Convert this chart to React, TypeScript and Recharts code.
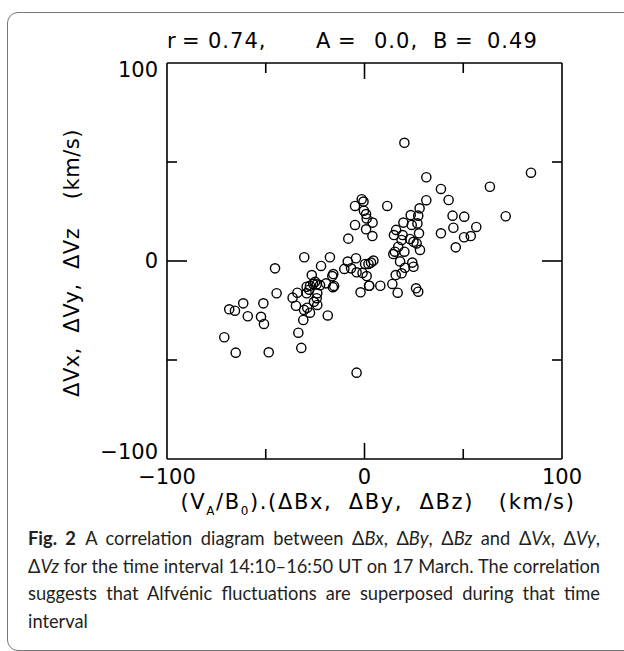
import React from 'react';
import { ScatterChart, Scatter, XAxis, YAxis } from 'recharts';

// (VA/B0).dB  vs  dV, km/s
const dB = [
  -1.4, -0.5, -4.8, -0.3, 0.8, 1.1, 4.1, -4.8, 0.8, 4.0, -8.2,
  -30.5, -17.5, -22.0, -45.3, -8.5, -4.3, -10.2, -6.8, -4.0, -1.0, 0.3, 2.0, 3.3, 4.5,
  1.1, 2.4, -2.0, 8.0, 2.3, -15.8, -16.3, -26.7, -19.5, -15.4, -16.0,
  -26.0, -24.2, -27.6, -29.3, -25.0, -22.5, -28.0, -34.0, -36.4, -44.5, -29.3, -23.9,
  -24.2, -25.6, -23.9, -34.7, -29.0, -30.6, -27.6, -18.6,
  -61.4, -51.2, -68.5, -65.6, -59.1, -52.4, -31.0, -50.9, -71.0, -65.2, -48.5,
  -33.5, -32.0, -4.0,
  20.2, 84.3, 31.3, 38.7, 63.5, 42.6, 31.3, 27.9, 11.5, 23.4, 27.2, 44.6, 50.5, 71.5,
  19.7, 26.8, 23.9, 45.0, 56.6, 16.0, 14.9, 19.3, 27.6, 38.7, 50.4, 53.8,
  18.8, 23.0, 24.8, 26.4, 17.1, 15.4, 14.6, 20.2, 28.1, 46.2,
  18.0, 24.2, 24.8, 20.5, 18.8, 15.8, 14.1, 16.8, 26.1, 27.2,
];
const dV = [
  31.2, 30.0, 27.8, 25.4, 23.7, 21.5, 19.4, 18.2, 16.0, 12.6, 11.3,
  1.9, 1.9, -2.5, -3.7, -0.3, 1.4, -4.0, -3.7, -5.7, -6.0, -1.5, -1.5, -0.8, 0.2,
  -7.6, -12.5, -15.8, -12.5, -12.5, -6.6, -7.6, -7.1, -11.3, -12.6, -13.2,
  -11.6, -11.8, -12.5, -13.0, -10.5, -12.2, -14.5, -16.0, -18.5, -16.3, -16.3, -16.3,
  -18.8, -20.6, -22.2, -22.6, -23.6, -24.7, -26.1, -27.5,
  -21.4, -21.4, -24.4, -25.1, -27.9, -28.2, -29.8, -31.8, -38.5, -46.3, -46.1,
  -36.2, -43.9, -56.4,
  59.7, 44.6, 42.3, 36.4, 37.5, 30.8, 30.7, 26.6, 27.8, 23.2, 22.9, 22.9, 22.4, 22.6,
  19.4, 19.0, 18.2, 16.8, 17.2, 15.7, 13.1, 13.1, 14.0, 14.0, 12.0, 12.6,
  10.6, 11.1, 9.7, 8.9, 7.2, 4.7, 3.5, 4.7, 5.6, 6.9,
  -0.2, -0.8, -2.9, -3.4, -6.2, -7.1, -11.6, -16.0, -13.8, -15.5,
];

const ticks = [-100, -50, 0, 50, 100];
const tickText = ['\u2212100', '', '0', '', '100'];

const points = dB.map((x, i) => ({ x, y: dV[i] }));

const font = '"DejaVu Sans", sans-serif';
const ink = '#000';
const frame = { stroke: ink, strokeWidth: 1.6 };

const label = (v: number) => tickText[ticks.indexOf(v)];

const BottomTick = (props: any) => {
  const { x, y, payload } = props;
  const v = payload.value;
  const len = v === 0 ? 16 : 10;
  return (
    <g>
      {Math.abs(v) < 100 && <line x1={x} y1={y} x2={x} y2={y - len} stroke={ink} strokeWidth={1.6} />}
      <text x={x} y={y + 18} textAnchor="middle" dominantBaseline="central" fontFamily={font} fontSize={21} fill={ink}>
        {label(v)}
      </text>
    </g>
  );
};

const TopTick = (props: any) => {
  const { x, y, payload } = props;
  const v = payload.value;
  if (Math.abs(v) >= 100) return <g />;
  const len = v === 0 ? 16 : 10;
  return <line x1={x} y1={y} x2={x} y2={y + len} stroke={ink} strokeWidth={1.6} />;
};

const LeftTick = (props: any) => {
  const { x, y, payload } = props;
  const v = payload.value;
  const len = v === 0 ? 20 : 10;
  const dy = v === 100 ? 7 : v === -100 ? -7 : 0;
  return (
    <g>
      {Math.abs(v) < 100 && <line x1={x} y1={y} x2={x + len} y2={y} stroke={ink} strokeWidth={1.6} />}
      <text x={x - 9} y={y + dy} textAnchor="end" dominantBaseline="central" fontFamily={font} fontSize={21} fill={ink}>
        {label(v)}
      </text>
    </g>
  );
};

const RightTick = (props: any) => {
  const { x, y, payload } = props;
  const v = payload.value;
  if (Math.abs(v) >= 100) return <g />;
  const len = v === 0 ? 20 : 10;
  return <line x1={x} y1={y} x2={x - len} y2={y} stroke={ink} strokeWidth={1.6} />;
};

const Ring = (props: any) => (
  <circle cx={props.cx} cy={props.cy} r={4.6} fill="none" stroke={ink} strokeWidth={1.4} />
);

const titleParts: [string, number][] = [
  ['r', 167], ['=', 182], ['0.74,', 208],
  ['A', 316], ['=', 338], ['0.0,', 374],
  ['B', 433], ['=', 455], ['0.49', 487],
];

const captionLines = [
  'A correlation diagram between \u0394Bx, \u0394By, \u0394Bz and \u0394Vx, \u0394Vy,',
  '\u0394Vz for the time interval 14:10\u201316:50 UT on 17 March. The correlation',
  'suggests that Alfvénic fluctuations are superposed during that time',
  'interval',
];

// italicise the B/V component names in a caption line
const italics = (s: string) =>
  s.split(/(\u0394[BV][xyz])/).map((p, i) =>
    /^\u0394[BV][xyz]$/.test(p) ? <span key={i}>{'\u0394'}<i>{p.slice(1)}</i></span> : p
  );

export default function App() {
  const lineStyle: React.CSSProperties = {
    width: 572, height: 27.5, textAlign: 'justify', textAlignLast: 'justify' as any, whiteSpace: 'normal',
  };
  return (
    <div style={{ position: 'relative', width: 624, height: 651, background: '#fff', overflow: 'hidden' }}>
      <style>{'body{margin:0}'}</style>
      <div
        style={{
          position: 'absolute', left: 7, top: 12, width: 660, height: 637,
          border: '1px solid #777', borderRadius: 11,
        }}
      />
      <div style={{ position: 'absolute', left: 0, top: 0 }}>
        <ScatterChart width={624} height={651} margin={{ top: 62, right: 61, bottom: 191, left: 166 }}>
          <XAxis xAxisId="b" type="number" dataKey="x" domain={[-100, 100]} ticks={ticks} interval={0}
            orientation="bottom" height={1} tickSize={0} tickMargin={0} tickLine={false} axisLine={frame} tick={<BottomTick />} />
          <XAxis xAxisId="t" type="number" dataKey="x" domain={[-100, 100]} ticks={ticks} interval={0}
            orientation="top" height={1} tickSize={0} tickMargin={0} tickLine={false} axisLine={frame} tick={<TopTick />} />
          <YAxis yAxisId="l" type="number" dataKey="y" domain={[-100, 100]} ticks={ticks} interval={0}
            orientation="left" width={1} tickSize={0} tickMargin={0} tickLine={false} axisLine={frame} tick={<LeftTick />} />
          <YAxis yAxisId="r" type="number" dataKey="y" domain={[-100, 100]} ticks={ticks} interval={0}
            orientation="right" width={1} tickSize={0} tickMargin={0} tickLine={false} axisLine={frame} tick={<RightTick />} />
          <Scatter xAxisId="b" yAxisId="l" data={points} shape={<Ring />} isAnimationActive={false} />
          <Scatter xAxisId="t" yAxisId="r" data={points} shape={() => <g />} isAnimationActive={false} />
        </ScatterChart>
      </div>
      <div style={{ position: 'absolute', top: 28, left: 0, width: 624, height: 26, fontFamily: font, fontSize: 21, whiteSpace: 'pre', lineHeight: '26px', letterSpacing: 1 }}>
        {titleParts.map(([t, x], i) => (
          <span key={i} style={{ position: 'absolute', left: x }}>{t}</span>
        ))}
      </div>
      <div style={{ position: 'absolute', left: 72, top: 263, transform: 'translate(-50%, -50%) rotate(-90deg)', fontFamily: font, fontSize: 21, whiteSpace: 'pre', letterSpacing: 0.5 }}>
        {'\u0394Vx,  \u0394Vy,  \u0394Vz    (km/s)'}
      </div>
      <div style={{ position: 'absolute', left: 378, top: 504, transform: 'translate(-50%, -50%)', fontFamily: font, fontSize: 21, whiteSpace: 'pre', letterSpacing: 1.6 }}>
        (V<sub style={{ fontSize: 12 }}>A</sub>/B<sub style={{ fontSize: 12 }}>0</sub>).({'\u0394'}Bx,  {'\u0394'}By,  {'\u0394'}Bz)   (km/s)
      </div>
      <div style={{ position: 'absolute', left: 28, top: 525, fontFamily: 'Lato, sans-serif', fontSize: 18.3, lineHeight: '27.5px', color: '#231f20' }}>
        {captionLines.map((ln, i) => (
          <div key={i} style={i < captionLines.length - 1 ? lineStyle : { height: 27.5 }}>
            {i === 0 && <b>Fig. 2{'\u2002'}</b>}
            {italics(ln)}
          </div>
        ))}
      </div>
    </div>
  );
}
